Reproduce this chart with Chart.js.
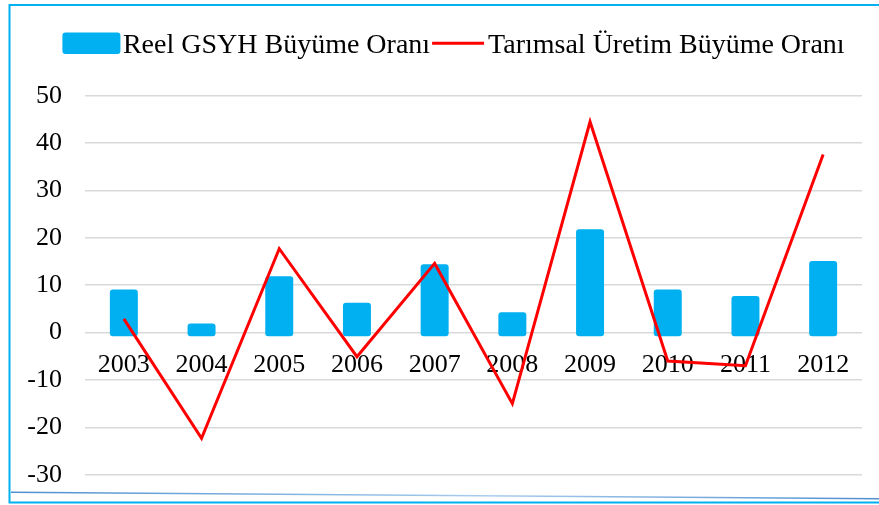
<!DOCTYPE html>
<html>
<head>
<meta charset="utf-8">
<script src="https://cdn.jsdelivr.net/npm/chart.js@4/dist/chart.umd.min.js"></script>
<style>
  html, body { margin: 0; padding: 0; background: #fff; }
  #wrap { width: 879px; height: 505px; position: relative; }
</style>
</head>
<body>
<div id="wrap"><canvas id="c" width="879" height="505"></canvas></div>
<script>
const categories = ['2003','2004','2005','2006','2007','2008','2009','2010','2011','2012'];
const gsyhGrowth = [9.1, 1.9, 11.9, 6.3, 14.4, 4.3, 21.8, 9.1, 7.7, 15.1];
const tarimGrowth = [2.9, -22.3, 17.7, -5.1, 14.6, -15.0, 44.5, -6.0, -7.0, 37.6];
const seriesNames = ['Reel GSYH Büyüme Oranı', 'Tarımsal Üretim Büyüme Oranı'];
const yTicks = { min: -30, max: 50, step: 10 };

const BLUE = '#00B0F0';
const RED = '#FF0000';
const FONT = '"Liberation Serif", "Times New Roman", serif';

const framePlugin = {
  id: 'frame',
  beforeDraw(chart) {
    const ctx = chart.ctx;
    ctx.save();
    ctx.fillStyle = '#fff';
    ctx.fillRect(0, 0, chart.width, chart.height);
    ctx.strokeStyle = BLUE;
    ctx.lineWidth = 2;
    ctx.strokeRect(9.5, 5, 890, 497.5);
    const g = ctx.createLinearGradient(10, 0, 879, 0);
    g.addColorStop(0, '#4F8FD0');
    g.addColorStop(0.55, '#A8CDEE');
    g.addColorStop(1, '#4F8FD0');
    ctx.strokeStyle = g;
    ctx.lineWidth = 1.5;
    ctx.beginPath();
    ctx.moveTo(11, 492.3);
    ctx.lineTo(879, 498.7);
    ctx.stroke();
    ctx.restore();
  },
  afterDraw(chart) {
    const ctx = chart.ctx;
    ctx.save();
    ctx.font = '28px ' + FONT;
    ctx.fillStyle = '#000';
    ctx.textBaseline = 'alphabetic';
    const boxW = 58, boxH = 21.5, lineW = 52;
    const w1 = ctx.measureText(seriesNames[0]).width;
    const w2 = ctx.measureText(seriesNames[1]).width;
    const total = boxW + 2.5 + w1 + 2 + lineW + 4 + w2;
    const center = (9 + 898) / 2;
    let x = center - total / 2;
    const baseY = 52.5;
    ctx.fillStyle = BLUE;
    ctx.beginPath();
    ctx.roundRect(x, 32.5, boxW, boxH, 3);
    ctx.fill();
    x += boxW + 2.5;
    ctx.fillStyle = '#000';
    ctx.fillText(seriesNames[0], x, baseY);
    x += w1 + 2;
    ctx.strokeStyle = RED;
    ctx.lineWidth = 3;
    ctx.beginPath();
    ctx.moveTo(x, 43.3);
    ctx.lineTo(x + lineW, 43.3);
    ctx.stroke();
    x += lineW + 4;
    ctx.fillText(seriesNames[1], x, baseY);
    ctx.restore();
  }
};

new Chart(document.getElementById('c'), {
  type: 'bar',
  data: {
    labels: categories,
    datasets: [
      {
        type: 'line',
        label: seriesNames[1],
        data: tarimGrowth,
        borderColor: RED,
        backgroundColor: RED,
        borderWidth: 3,
        pointRadius: 0,
        tension: 0,
        borderJoinStyle: 'miter',
        order: 0
      },
      {
        type: 'bar',
        label: seriesNames[0],
        data: gsyhGrowth,
        backgroundColor: BLUE,
        borderWidth: 0,
        borderRadius: 3,
        borderSkipped: false,
        base: -0.8,
        barPercentage: 0.36,
        categoryPercentage: 1,
        order: 1
      }
    ]
  },
  options: {
    responsive: false,
    animation: false,
    devicePixelRatio: 1,
    layout: { padding: { top: 95.7, right: 17, bottom: 30.3, left: 0 } },
    plugins: { legend: { display: false }, tooltip: { enabled: false } },
    scales: {
      x: {
        position: { y: 0 },
        grid: { display: false, drawTicks: false },
        border: { display: false },
        ticks: { color: '#000', font: { family: FONT, size: 26 }, padding: 17, maxRotation: 0, autoSkip: false }
      },
      y: {
        min: yTicks.min,
        max: yTicks.max,
        afterFit(scale) { scale.width = 85; },
        grid: { color: '#D9D9D9', lineWidth: 1.5, drawTicks: true, tickLength: 20, tickColor: 'rgba(0,0,0,0)' },
        border: { display: false },
        ticks: { stepSize: yTicks.step, color: '#000', font: { family: FONT, size: 26 }, padding: 3 }
      }
    }
  },
  plugins: [framePlugin]
});
</script>
</body>
</html>
